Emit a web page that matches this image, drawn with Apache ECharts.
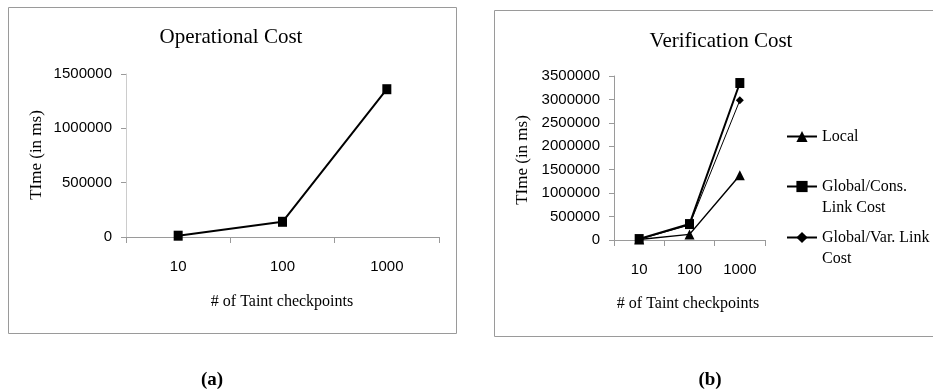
<!DOCTYPE html>
<html>
<head>
<meta charset="utf-8">
<script src="https://cdn.jsdelivr.net/npm/echarts@6/dist/echarts.min.js"></script>
<style>html,body{margin:0;padding:0;background:#fff;}#c{width:933px;height:391px;}</style>
</head>
<body>
<div id="c"></div>
<script>
const categories = ['10', '100', '1000'];
const operationalCost = [12000, 140000, 1360000];
const localCost = [10000, 120000, 1380000];
const globalConsCost = [20000, 340000, 3350000];
const globalVarCost = [15000, 320000, 2980000];
const seriesNames = ['Local', 'Global/Cons.\nLink Cost', 'Global/Var. Link\nCost'];

const serif = '"Liberation Serif", "Times New Roman", serif';
const sans = '"Liberation Sans", Arial, sans-serif';

const chart = echarts.init(document.getElementById('c'));

function xAxisCfg(gridIndex, margin) {
  return {
    type: 'category', gridIndex, data: categories, boundaryGap: true,
    axisLine: {lineStyle: {color: '#9a9a9a', width: 1}},
    axisTick: {show: true, length: 6, inside: false, lineStyle: {color: '#9a9a9a'}},
    axisLabel: {color: '#000', fontFamily: sans, fontSize: 15, margin},
    splitLine: {show: false}
  };
}
function yAxisCfg(gridIndex, max, lineColor) {
  return {
    type: 'value', gridIndex, min: 0, max, interval: 500000,
    axisLine: {show: true, lineStyle: {color: lineColor, width: 1}},
    axisTick: {show: true, length: 5, lineStyle: {color: '#9a9a9a'}},
    axisLabel: {color: '#000', fontFamily: sans, fontSize: 15, margin: 14,
                formatter: v => String(v)},
    splitLine: {show: false}
  };
}
function legendCfg(name, top, multi) {
  return {
    orient: 'vertical', left: 786, top, padding: 0,
    itemWidth: 30, itemHeight: 14, itemGap: 0,
    data: [name],
    formatter: multi ? (n => '\n' + n) : (n => n),
    textStyle: {fontFamily: serif, fontSize: 16, color: '#000', lineHeight: 21},
    selectedMode: false
  };
}

chart.setOption({
  animation: false,
  backgroundColor: '#fff',
  grid: [
    {left: 126, top: 74, width: 313, height: 163},
    {left: 614, top: 76, width: 151, height: 164}
  ],
  xAxis: [xAxisCfg(0, 22), xAxisCfg(1, 22)],
  yAxis: [yAxisCfg(0, 1500000, '#cccccc'), yAxisCfg(1, 3500000, '#9a9a9a')],
  legend: [
    legendCfg(seriesNames[0], 126, false),
    legendCfg(seriesNames[1], 155, true),
    legendCfg(seriesNames[2], 206, true)
  ],
  series: [
    {name: 'Operational', type: 'line', xAxisIndex: 0, yAxisIndex: 0, data: operationalCost,
     symbol: 'rect', symbolSize: [9, 10], lineStyle: {color: '#000', width: 2},
     itemStyle: {color: '#000'}},
    {name: seriesNames[0], type: 'line', xAxisIndex: 1, yAxisIndex: 1, data: localCost,
     symbol: 'triangle', symbolSize: 10, lineStyle: {color: '#000', width: 1.5},
     itemStyle: {color: '#000'}},
    {name: seriesNames[1], type: 'line', xAxisIndex: 1, yAxisIndex: 1, data: globalConsCost,
     symbol: 'rect', symbolSize: [9, 10], lineStyle: {color: '#000', width: 2},
     itemStyle: {color: '#000'}},
    {name: seriesNames[2], type: 'line', xAxisIndex: 1, yAxisIndex: 1, data: globalVarCost,
     symbol: 'diamond', symbolSize: 8, lineStyle: {color: '#000', width: 1},
     itemStyle: {color: '#000'}}
  ],
  graphic: [
    {type: 'rect', shape: {x: 8.5, y: 7.5, width: 448, height: 326}, style: {fill: null, stroke: '#9a9a9a', lineWidth: 1}, z: -1},
    {type: 'rect', shape: {x: 494.5, y: 10.5, width: 440, height: 326}, style: {fill: null, stroke: '#9a9a9a', lineWidth: 1}, z: -1},
    {type: 'text', x: 231, y: 37, style: {text: 'Operational Cost', font: '21px ' + serif, fill: '#000', align: 'center', verticalAlign: 'middle'}},
    {type: 'text', x: 721, y: 41, style: {text: 'Verification Cost', font: '21px ' + serif, fill: '#000', align: 'center', verticalAlign: 'middle'}},
    {type: 'text', x: 282, y: 302, style: {text: '# of Taint checkpoints', font: '16px ' + serif, fill: '#000', align: 'center', verticalAlign: 'middle'}},
    {type: 'text', x: 688, y: 304, style: {text: '# of Taint checkpoints', font: '16px ' + serif, fill: '#000', align: 'center', verticalAlign: 'middle'}},
    {type: 'text', x: 37, y: 155, rotation: Math.PI / 2, style: {text: 'TIme (in ms)', font: '17px ' + serif, fill: '#000', align: 'center', verticalAlign: 'middle'}},
    {type: 'text', x: 523, y: 160, rotation: Math.PI / 2, style: {text: 'TIme (in ms)', font: '17px ' + serif, fill: '#000', align: 'center', verticalAlign: 'middle'}},
    {type: 'text', x: 212, y: 380, style: {text: '(a)', font: 'bold 19px ' + serif, fill: '#000', align: 'center', verticalAlign: 'middle'}},
    {type: 'text', x: 710, y: 380, style: {text: '(b)', font: 'bold 19px ' + serif, fill: '#000', align: 'center', verticalAlign: 'middle'}}
  ]
});
</script>
</body>
</html>
